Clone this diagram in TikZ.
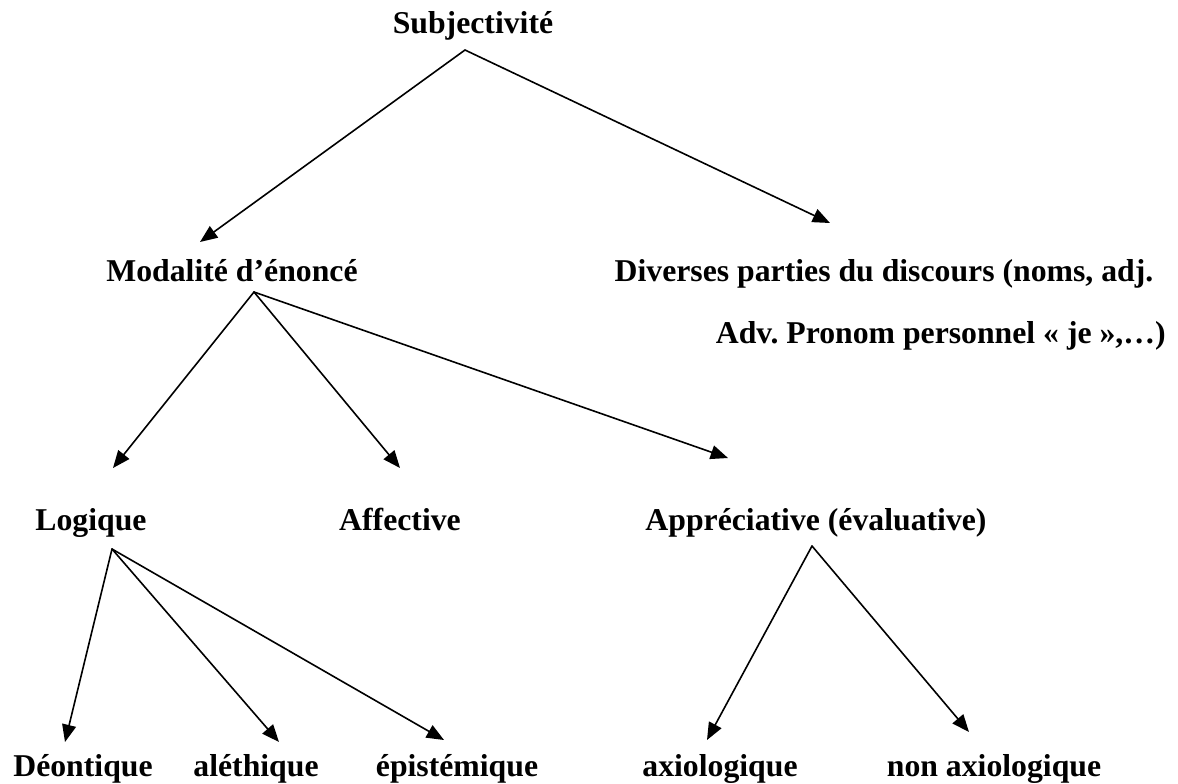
\documentclass[tikz,border=0pt]{standalone}
\usepackage{fontspec}
\setmainfont{Liberation Serif}
\usepackage{tikz}
\usetikzlibrary{calc}
\usetikzlibrary{arrows.meta}
\frenchspacing
\tikzstyle{every node}=[font=\fontsize{23.8}{28}\selectfont\bfseries,inner sep=0pt,anchor=base]
\tikzstyle{branch}=[->,line width=1.2pt,color=black]

\begin{document}
\begin{tikzpicture}[line cap=round,line join=round,>={Triangle[length=13pt,width=10.5pt]},x=0.75pt,y=-0.75pt]
            \useasboundingbox (0,0) rectangle (1178,783);
            \node (subj) at (473,33) {Subjectivité};
            \node (modal) at (232,281) {Modalité d’énoncé};
            \node (divers) at (884,281) {Diverses parties du discours (noms, adj.};
            \node [anchor=base east] (adv) at (1166,343) {Adv. Pronom personnel « je »,…)};
            \node (logique) at (91,530) {Logique};
            \node (affect) at (400,530) {Affective};
            \node (apprec) at (816,530) {Appréciative (évaluative)};
            \node (deont) at (83,776) {Déontique};
            \node (aleth) at (256,776) {aléthique};
            \node (epist) at (457,776) {épistémique};
            \node (axio) at (720,776) {axiologique};
            \node (nonaxio) at (994,776) {non axiologique};
            \coordinate (subj-out) at (465,50);
            \coordinate (modal-out) at (254,292);
            \coordinate (logique-out) at (112,549);
            \coordinate (apprec-out) at (812,546);
            \coordinate (modal-in) at (200,242);
            \coordinate (divers-in) at (830,223);
            \coordinate (logique-in) at (113,468);
            \coordinate (affect-in) at (400,468);
            \coordinate (apprec-in) at (728,458);
            \coordinate (deont-in) at (65,742);
            \coordinate (aleth-in) at (279,742);
            \coordinate (epist-in) at (444,740);
            \coordinate (axio-in) at (707,740);
            \coordinate (nonaxio-in) at (969,732);
            \draw [branch] (subj-out) -- (modal-in);
            \draw [branch] (subj-out) -- (divers-in);
            \draw [branch] (modal-out) -- (logique-in);
            \draw [branch] (modal-out) -- (affect-in);
            \draw [branch] (modal-out) -- (apprec-in);
            \draw [branch] (logique-out) -- (deont-in);
            \draw [branch] (logique-out) -- (aleth-in);
            \draw [branch] (logique-out) -- (epist-in);
            \draw [branch] (apprec-out) -- (axio-in);
            \draw [branch] (apprec-out) -- (nonaxio-in);
            \end{tikzpicture}
\end{document}
